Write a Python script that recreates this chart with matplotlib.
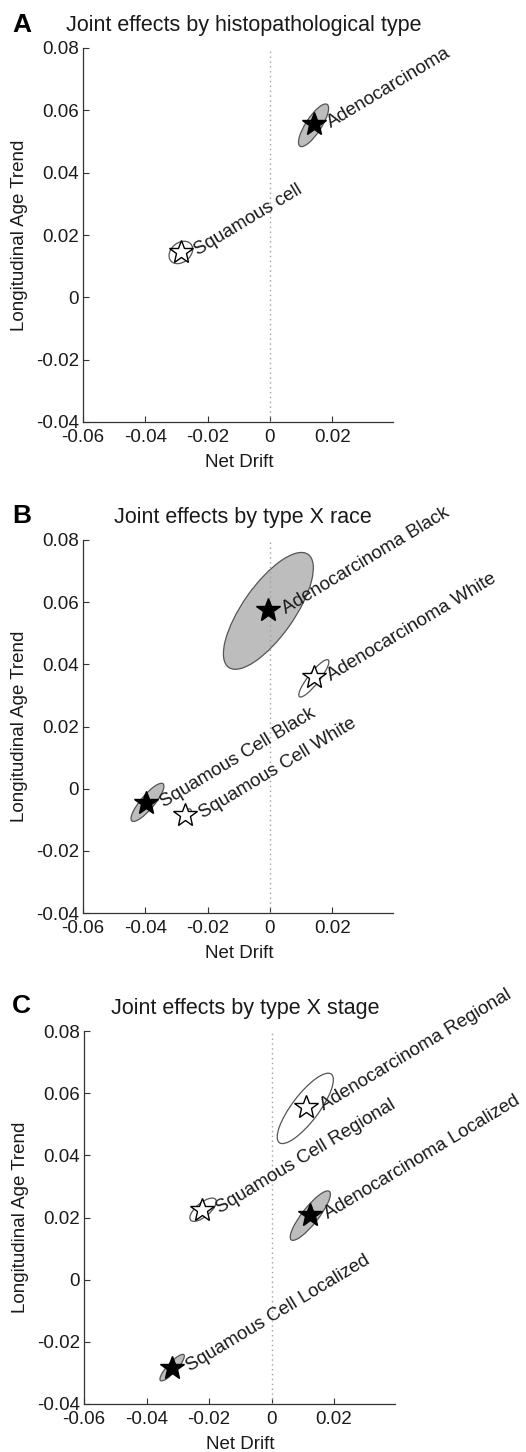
import matplotlib
matplotlib.use("Agg")
import matplotlib.pyplot as plt
from matplotlib.patches import Ellipse

plt.rcParams['font.family'] = ['Liberation Sans', 'DejaVu Sans']

# ---------------- data ----------------
titles = ["Joint effects by histopathological type",
          "Joint effects by type X race",
          "Joint effects by type X stage"]
panel_letters = ["A", "B", "C"]

# Panel A
labels_A = ["Adenocarcinoma", "Squamous cell"]
drift_A = [0.0140, -0.0287]
age_A = [0.0555, 0.0145]
filled_A = [True, False]
ell_cx_A = [0.0140, -0.0286]
ell_cy_A = [0.0552, 0.0144]
ell_a_A = [0.0080, 0.0042]
ell_b_A = [0.0025, 0.0031]
ell_ang_A = [57, 40]

# Panel B
labels_B = ["Adenocarcinoma Black", "Adenocarcinoma White",
            "Squamous Cell Black", "Squamous Cell White"]
drift_B = [-0.0005, 0.0140, -0.0398, -0.0273]
age_B = [0.0575, 0.0358, -0.0047, -0.0084]
filled_B = [True, False, True, False]
ell_cx_B = [-0.0005, 0.0141, -0.0393, -0.0270]
ell_cy_B = [0.0572, 0.0355, -0.0044, -0.0082]
ell_a_B = [0.0222, 0.0075, 0.0078, 0.0022]
ell_b_B = [0.0083, 0.0018, 0.0022, 0.0010]
ell_ang_B = [55, 52, 50, 45]

# Panel C
labels_C = ["Adenocarcinoma Regional", "Squamous Cell Regional",
            "Adenocarcinoma Localized", "Squamous Cell Localized"]
drift_C = [0.0110, -0.0221, 0.0124, -0.0318]
age_C = [0.0556, 0.0225, 0.0209, -0.0283]
filled_C = [False, False, True, True]
ell_cx_C = [0.0108, -0.0219, 0.0124, -0.0318]
ell_cy_C = [0.0551, 0.0225, 0.0206, -0.0283]
ell_a_C = [0.0138, 0.0052, 0.0099, 0.0056]
ell_b_C = [0.0043, 0.0022, 0.0026, 0.0015]
ell_ang_C = [53, 40, 52, 48]

xticks = [-0.06, -0.04, -0.02, 0, 0.02]
xtick_labels = ["-0.06", "-0.04", "-0.02", "0", "0.02"]
yticks = [-0.04, -0.02, 0, 0.02, 0.04, 0.06, 0.08]
ytick_labels = ["-0.04", "-0.02", "0", "0.02", "0.04", "0.06", "0.08"]

panels = [
    (labels_A, drift_A, age_A, filled_A, ell_cx_A, ell_cy_A, ell_a_A, ell_b_A, ell_ang_A),
    (labels_B, drift_B, age_B, filled_B, ell_cx_B, ell_cy_B, ell_a_B, ell_b_B, ell_ang_B),
    (labels_C, drift_C, age_C, filled_C, ell_cx_C, ell_cy_C, ell_a_C, ell_b_C, ell_ang_C),
]

# ---------------- layout ----------------
W, H = 526, 1452
fig = plt.figure(figsize=(W / 100, H / 100), dpi=100)
fig.patch.set_facecolor("white")

axes_px = [  # left, top, right, bottom in pixels
    (83, 48, 393, 422),
    (83, 540, 393, 913),
    (84, 1031, 395, 1404),
]
letter_baseline_px = [32, 523, 1013]

axis_col = "#333333"
gray_fill = "#bdbdbd"
edge_col = "#555555"

for i, (pnl, (l, t, r, b)) in enumerate(zip(panels, axes_px)):
    labels, xs, ys, filled, cx, cy, ea, eb, eang = pnl
    ax = fig.add_axes([l / W, 1 - b / H, (r - l) / W, (b - t) / H])
    ax.set_xlim(-0.06, 0.0395)
    ax.set_ylim(-0.04, 0.08)
    for s in ["top", "right"]:
        ax.spines[s].set_visible(False)
    for s in ["left", "bottom"]:
        ax.spines[s].set_color(axis_col)
        ax.spines[s].set_linewidth(0.9)
    ax.set_xticks(xticks)
    ax.set_xticklabels(xtick_labels)
    ax.set_yticks(yticks)
    ax.set_yticklabels(ytick_labels)
    ax.tick_params(axis="both", direction="in", length=4, width=0.8,
                   color=axis_col, labelsize=13.5, labelcolor="#1a1a1a")
    ax.tick_params(axis="x", pad=5)
    ax.tick_params(axis="y", pad=3)

    # zero line
    ax.plot([0, 0], [-0.04, 0.08], linestyle=(0, (1, 2.5)), color="#a0a0a0",
            linewidth=1.0, zorder=3)

    for j in range(len(labels)):
        e = Ellipse((cx[j], cy[j]), width=2 * ea[j], height=2 * eb[j], angle=eang[j],
                    facecolor=gray_fill if filled[j] else "white",
                    edgecolor=edge_col, linewidth=0.9, zorder=2)
        ax.add_patch(e)
        ax.plot(xs[j], ys[j], marker="*", markersize=18,
                markerfacecolor="black" if filled[j] else "white",
                markeredgecolor="black", markeredgewidth=1.0,
                linestyle="none", zorder=5)
        ax.text(xs[j] + 0.005, ys[j], labels[j], rotation=31,
                rotation_mode="anchor", ha="left", va="center",
                fontsize=13.5, color="#1a1a1a", clip_on=False, zorder=6)

    ax.set_xlabel("Net Drift", fontsize=13.5, color="#1a1a1a", va="baseline")
    ax.xaxis.set_label_coords(0.503, -45 / 374)
    ax.set_ylabel("Longitudinal Age Trend", fontsize=13.5, color="#1a1a1a", va="center")
    ax.yaxis.set_label_coords(-63 / 310, 0.5)

    ax.text(0.517, 1 + 17.5 / 374, titles[i], transform=ax.transAxes,
            ha="center", va="baseline", fontsize=15.5, color="#1a1a1a")

    fig.text(12 / W, 1 - letter_baseline_px[i] / H, panel_letters[i],
             fontsize=19, fontweight="bold", ha="left", va="baseline", color="black")

fig.savefig("out.png", dpi=100, facecolor="white")
